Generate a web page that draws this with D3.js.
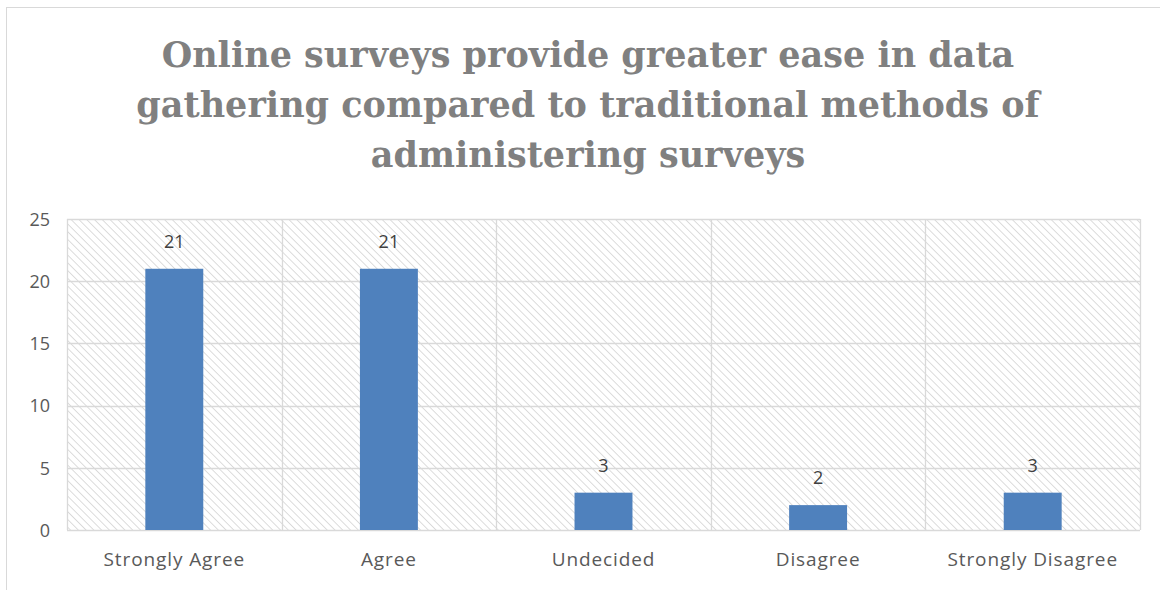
<!DOCTYPE html>
<html>
<head>
<meta charset="utf-8">
<script src="https://cdn.jsdelivr.net/npm/d3@7"></script>
<style>
  html, body { margin: 0; padding: 0; background: #fff; }
  svg { display: block; }
</style>
</head>
<body>
<svg id="chart" width="1160" height="590"></svg>
<script>
// Survey responses
const categories = ["Strongly Agree", "Agree", "Undecided", "Disagree", "Strongly Disagree"];
const responses = [21, 21, 3, 2, 3];
const yTicks = [0, 5, 10, 15, 20, 25];
const titleLines = [
  "Online surveys provide greater ease in data",
  "gathering compared to traditional methods of",
  "administering surveys"
];

const svg = d3.select("#chart");
const W = 1160, H = 590;
const plot = { left: 67, right: 1140, top: 219, bottom: 530 };
const labelFont = "'Open Sans', Lato, sans-serif";

// Outer chart frame
svg.append("rect")
  .attr("x", 6.5).attr("y", 7.5)
  .attr("width", W + 10).attr("height", H + 10)
  .attr("fill", "#fff").attr("stroke", "#d9d9d9").attr("stroke-width", 1);

// Diagonal hatch used behind the plot
const defs = svg.append("defs");
const pat = defs.append("pattern")
  .attr("id", "hatch")
  .attr("patternUnits", "userSpaceOnUse")
  .attr("width", 5.5).attr("height", 5.5)
  .attr("patternTransform", "rotate(45)");
pat.append("line")
  .attr("x1", 0).attr("y1", 0).attr("x2", 5.5).attr("y2", 0)
  .attr("stroke", "#d4d4d4").attr("stroke-width", 1.6);

// Title
const title = svg.append("text")
  .attr("text-anchor", "middle")
  .attr("fill", "#808080")
  .attr("font-family", "'DejaVu Serif', 'Liberation Serif', serif")
  .attr("font-weight", "bold")
  .attr("font-size", 35);
titleLines.forEach((t, i) => {
  title.append("tspan")
    .attr("x", 588).attr("y", 67 + i * 50)
    .text(t);
});

const x = d3.scaleBand()
  .domain(categories)
  .range([plot.left, plot.right])
  .paddingInner(0).paddingOuter(0);

const y = d3.scaleLinear()
  .domain([0, 25])
  .range([plot.bottom, plot.top]);

// Plot background hatch
svg.append("rect")
  .attr("x", plot.left).attr("y", plot.top)
  .attr("width", plot.right - plot.left)
  .attr("height", plot.bottom - plot.top)
  .attr("fill", "url(#hatch)");

// Horizontal gridlines
svg.append("g")
  .selectAll("line")
  .data(yTicks)
  .join("line")
  .attr("x1", plot.left).attr("x2", plot.right)
  .attr("y1", d => Math.round(y(d)) + 0.5)
  .attr("y2", d => Math.round(y(d)) + 0.5)
  .attr("stroke", "#d9d9d9").attr("stroke-width", 1.3);

// Vertical gridlines at category boundaries
const bounds = categories.map(c => x(c)).concat([plot.right]);
svg.append("g")
  .selectAll("line")
  .data(bounds)
  .join("line")
  .attr("x1", d => Math.round(d) + 0.5).attr("x2", d => Math.round(d) + 0.5)
  .attr("y1", plot.top).attr("y2", plot.bottom)
  .attr("stroke", "#d9d9d9").attr("stroke-width", 1.3);

// Bars
const barW = x.bandwidth() * 0.27;
svg.append("g")
  .selectAll("rect")
  .data(categories)
  .join("rect")
  .attr("x", (d, i) => x(d) + x.bandwidth() / 2 - barW / 2)
  .attr("y", (d, i) => y(responses[i]))
  .attr("width", barW)
  .attr("height", (d, i) => y(0) - y(responses[i]))
  .attr("fill", "#4f81bd");

// Value labels
svg.append("g")
  .selectAll("text")
  .data(categories)
  .join("text")
  .attr("x", d => x(d) + x.bandwidth() / 2)
  .attr("y", (d, i) => y(responses[i]) - 21)
  .attr("text-anchor", "middle")
  .attr("font-family", labelFont)
  .attr("font-size", 18)
  .attr("fill", "#404040")
  .text((d, i) => responses[i]);

// Y axis labels
const yAxis = d3.axisLeft(y).tickValues(yTicks).tickSize(0).tickPadding(0);
const gy = svg.append("g")
  .attr("transform", `translate(${plot.left - 17},0)`)
  .call(yAxis);
gy.select(".domain").remove();
gy.selectAll("text")
  .attr("text-anchor", "end")
  .attr("dy", "0.35em")
  .attr("font-family", labelFont)
  .attr("font-size", 18)
  .attr("fill", "#595959");

// X axis labels
const xAxis = d3.axisBottom(x).tickSize(0).tickPadding(0);
const gx = svg.append("g")
  .attr("transform", `translate(0,${plot.bottom + 22})`)
  .call(xAxis);
gx.select(".domain").remove();
gx.selectAll("text")
  .attr("dy", "0.71em")
  .attr("font-family", labelFont)
  .attr("font-size", 19)
  .attr("letter-spacing", 0.9)
  .attr("fill", "#595959");
</script>
</body>
</html>
